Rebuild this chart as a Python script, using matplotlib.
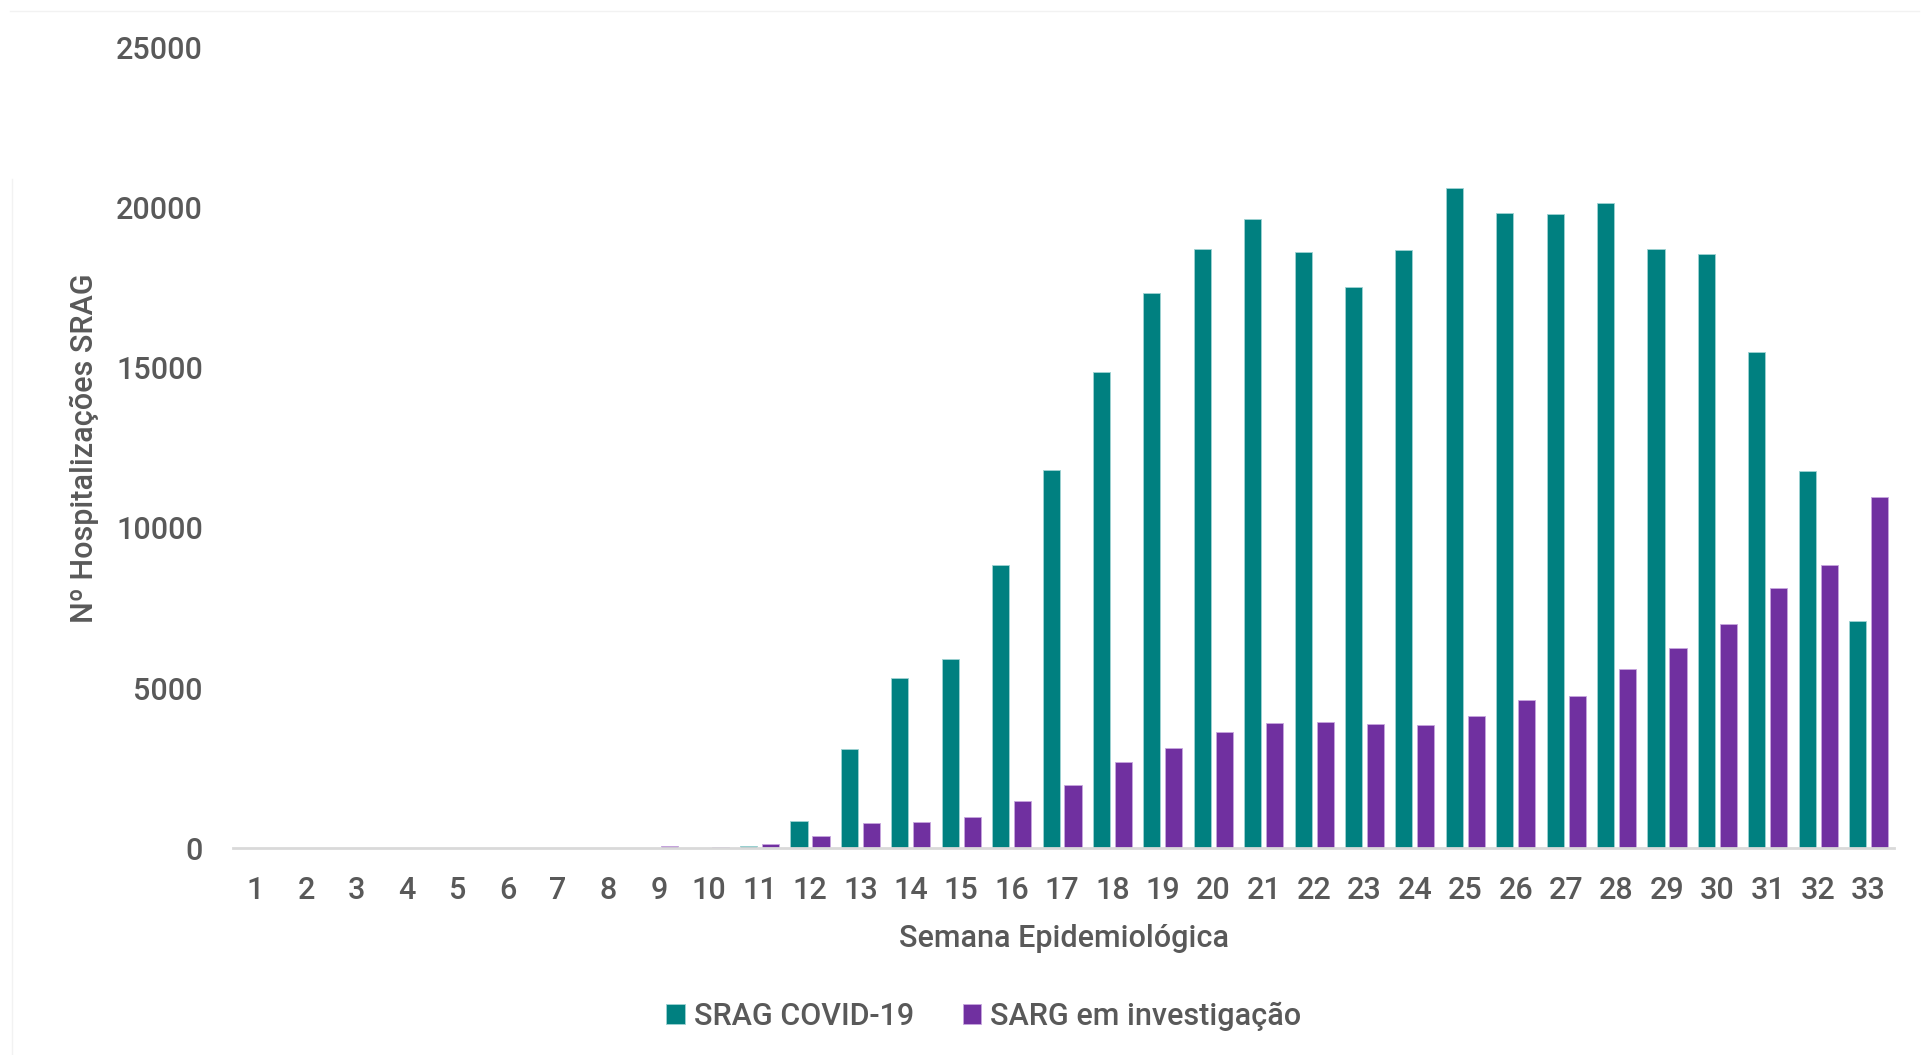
import matplotlib.pyplot as plt
import numpy as np

plt.rcParams['font.family'] = ['Roboto', 'DejaVu Sans']

# semanas epidemiologicas 1..33
semanas = [str(i) for i in range(1, 34)]

# SRAG COVID-19
covid = [0, 0, 0, 0, 0, 0, 0, 0, 0, 0, 60, 850,
         3110, 5310, 5920, 8850, 11800, 14880, 17350, 18720, 19650, 18600,
         17520, 18680, 20620, 19830, 19800, 20150, 18700, 18560, 15500, 11770,
         7080]

# SARG em investigacao
investigacao = [0, 0, 0, 0, 0, 0, 0, 20, 60, 40, 120, 390,
                780, 820, 960, 1480, 1980, 2680, 3120, 3640, 3900, 3940,
                3890, 3860, 4140, 4620, 4740, 5600, 6250, 7000, 8120, 8850,
                10980]

cor_covid = '#008080'
cor_inv = '#7030A0'
cinza = '#595959'

fig = plt.figure(figsize=(19.29, 10.55), dpi=100)
ax = fig.add_axes([0.121, 0.196, 0.861, 0.759])

x = np.arange(len(semanas))
w = 0.34
ax.bar(x - 0.218, covid, w, color=cor_covid, edgecolor='#9fd3d3', linewidth=0.6,
       label='SRAG COVID-19')
ax.bar(x + 0.218, investigacao, w, color=cor_inv, edgecolor='#c7a6de', linewidth=0.6,
       label='SARG em investigação')

ax.set_ylim(0, 25000)
ax.set_xlim(-0.44, len(semanas) - 0.49)
ax.set_yticks(range(0, 25001, 5000))
ax.set_xticks(x)
ax.set_xticklabels(semanas)

for s in ['top', 'right', 'left']:
    ax.spines[s].set_visible(False)
ax.spines['bottom'].set_color('#d9d9d9')
ax.spines['bottom'].set_linewidth(2)

ax.tick_params(axis='both', length=0, labelsize=22, labelcolor=cinza)
ax.tick_params(axis='x', pad=20)
ax.tick_params(axis='y', pad=22)
for lb in ax.get_xticklabels() + ax.get_yticklabels():
    lb.set_fontweight('medium')

ax.set_xlabel('Semana Epidemiológica', fontsize=22, color=cinza, labelpad=14,
              fontweight='medium')
ax.set_ylabel('Nº Hospitalizações SRAG', fontsize=22, color=cinza, labelpad=12,
              fontweight='medium')

leg = fig.legend(loc='center', bbox_to_anchor=(0.51, 0.037), ncol=2, frameon=False,
                 fontsize=22, labelcolor=cinza, handlelength=0.6, handleheight=0.6,
                 handletextpad=0.3, columnspacing=1.6)
for t in leg.get_texts():
    t.set_fontweight('medium')

# linhas finas de borda do grafico original
fig.add_artist(plt.Line2D([0.005, 0.995], [0.99, 0.99], color='#f2f2f2', lw=1))
fig.add_artist(plt.Line2D([0.006, 0.006], [0.0, 0.83], color='#f2f2f2', lw=1))

fig.savefig('out.png', dpi=100)
